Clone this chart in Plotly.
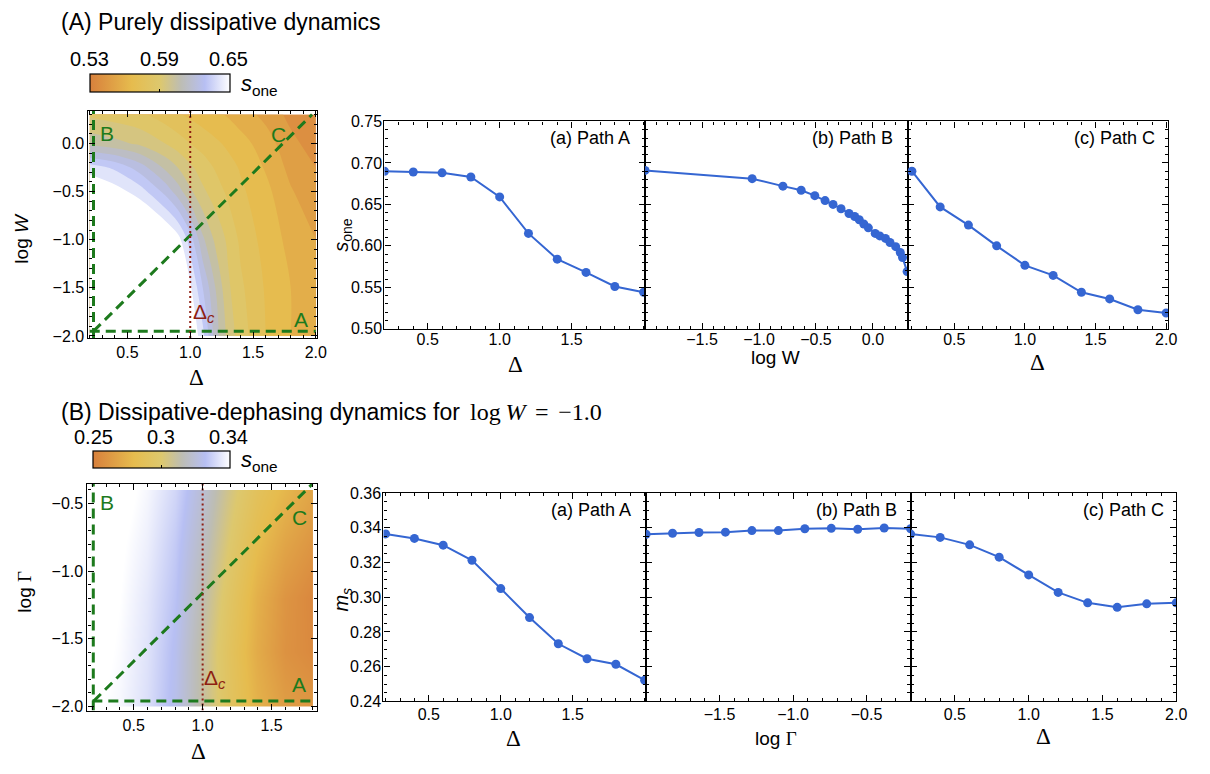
import plotly.graph_objects as go

W, H = 1210, 774


def px(x):
    return x / W


def py(y):
    return 1 - y / H


# ---------------- data ----------------
# (A) map of s_one over (Delta, log W)
mapA_delta = [0.2, 0.4, 0.6, 0.8, 0.9, 1.0, 1.1, 1.2, 1.3, 1.4, 1.6, 1.8, 2.0]
mapA_logW = [-2.0, -1.5, -1.0, -0.5, -0.25, 0.0, 0.3]
mapA_sone = [
    [0.690, 0.690, 0.689, 0.684, 0.675, 0.662, 0.643, 0.615, 0.597, 0.585, 0.570, 0.560, 0.553],
    [0.690, 0.688, 0.685, 0.678, 0.668, 0.652, 0.630, 0.610, 0.592, 0.582, 0.569, 0.560, 0.553],
    [0.685, 0.682, 0.676, 0.665, 0.655, 0.635, 0.612, 0.598, 0.588, 0.578, 0.566, 0.557, 0.550],
    [0.662, 0.655, 0.645, 0.627, 0.615, 0.602, 0.592, 0.585, 0.578, 0.572, 0.563, 0.551, 0.543],
    [0.645, 0.638, 0.625, 0.608, 0.600, 0.592, 0.585, 0.579, 0.574, 0.569, 0.559, 0.547, 0.540],
    [0.607, 0.603, 0.598, 0.590, 0.585, 0.580, 0.576, 0.572, 0.568, 0.564, 0.555, 0.543, 0.535],
    [0.588, 0.585, 0.582, 0.575, 0.571, 0.568, 0.565, 0.562, 0.559, 0.555, 0.547, 0.537, 0.530],
]
cbarA_ticks = [0.53, 0.59, 0.65]
cbarA_text = ["0.53", "0.59", "0.65"]

# (A) paths through the map
pathA_delta, pathA_logW = [0.2, 2.0], [-1.95, -1.95]
pathB_delta, pathB_logW = [0.23, 0.23], [-2.02, 0.34]
pathC_delta, pathC_logW = [0.23, 1.97], [-1.95, 0.30]
deltaC = 1.0

# (A) cuts along the paths
cutA_delta = [0.2, 0.4, 0.6, 0.8, 1.0, 1.2, 1.4, 1.6, 1.8, 2.0]
cutA_sone = [0.690, 0.689, 0.688, 0.683, 0.659, 0.615, 0.584, 0.568, 0.551, 0.544]
cutB_logW = [-2.0, -1.06, -0.79, -0.63, -0.51, -0.42, -0.35, -0.28, -0.21, -0.16, -0.12,
             -0.08, -0.04, 0.02, 0.06, 0.11, 0.15, 0.20, 0.24, 0.26, 0.30]
cutB_sone = [0.691, 0.681, 0.672, 0.667, 0.6605, 0.6546, 0.650, 0.6448, 0.639, 0.6354, 0.6315,
             0.6264, 0.6217, 0.615, 0.612, 0.609, 0.604, 0.599, 0.592, 0.586, 0.569]
cutC_delta = [0.2, 0.4, 0.6, 0.8, 1.0, 1.2, 1.4, 1.6, 1.8, 2.0]
cutC_sone = [0.690, 0.647, 0.625, 0.600, 0.5765, 0.5644, 0.544, 0.536, 0.523, 0.519]

# (B) map of s_one over (Delta, log Gamma) at log W = -1
mapB_delta = [0.2, 0.4, 0.6, 0.8, 1.0, 1.2, 1.4, 1.6, 1.8]
mapB_logG = [-2.0, -1.6, -1.2, -0.8, -0.4]
mapB_sone = [
    [0.341, 0.338, 0.332, 0.322, 0.306, 0.288, 0.274, 0.265, 0.262],
    [0.343, 0.339, 0.333, 0.323, 0.306, 0.287, 0.271, 0.260, 0.256],
    [0.344, 0.340, 0.334, 0.325, 0.309, 0.290, 0.273, 0.261, 0.255],
    [0.345, 0.341, 0.336, 0.327, 0.313, 0.295, 0.279, 0.268, 0.261],
    [0.346, 0.343, 0.338, 0.330, 0.317, 0.300, 0.286, 0.276, 0.268],
]
cbarB_ticks = [0.252, 0.296, 0.34]
cbarB_text = ["0.25", "0.3", "0.34"]

pathA2_delta, pathA2_logG = [0.2, 1.8], [-1.96, -1.96]
pathB2_delta, pathB2_logG = [0.207, 0.207], [-2.03, -0.356]
pathC2_delta, pathC2_logG = [0.21, 1.795], [-1.96, -0.356]

# (B) cuts along the paths
cutA2_delta = [0.2, 0.4, 0.6, 0.8, 1.0, 1.2, 1.4, 1.6, 1.8, 2.0]
cutA2_ms = [0.3365, 0.3339, 0.3300, 0.3213, 0.3050, 0.2883, 0.2732, 0.2646, 0.2614, 0.2522]
cutB2_logG = [-2.0, -1.82, -1.64, -1.46, -1.28, -1.10, -0.92, -0.74, -0.56, -0.38, -0.20]
cutB2_ms = [0.3363, 0.3369, 0.3373, 0.3375, 0.3384, 0.3384, 0.3395, 0.3397, 0.3392, 0.3399, 0.3395]
cutC2_delta = [0.2, 0.4, 0.6, 0.8, 1.0, 1.2, 1.4, 1.6, 1.8, 2.0]
cutC2_ms = [0.3364, 0.3345, 0.3302, 0.3231, 0.3129, 0.3028, 0.2968, 0.2942, 0.2962, 0.2968]

# tick labels
ticks_delta = [0.5, 1.0, 1.5, 2.0]
ticks_delta_txt = ["0.5", "1.0", "1.5", "2.0"]
ticks_logW = [-2.0, -1.5, -1.0, -0.5, 0.0]
ticks_logW_txt = ["\u22122.0", "\u22121.5", "\u22121.0", "\u22120.5", "0.0"]
ticks_logG = [-2.0, -1.5, -1.0, -0.5]
ticks_logG_txt = ["\u22122.0", "\u22121.5", "\u22121.0", "\u22120.5"]
ticks_sone = [0.50, 0.55, 0.60, 0.65, 0.70, 0.75]
ticks_sone_txt = ["0.50", "0.55", "0.60", "0.65", "0.70", "0.75"]
ticks_ms = [0.24, 0.26, 0.28, 0.30, 0.32, 0.34, 0.36]
ticks_ms_txt = ["0.24", "0.26", "0.28", "0.30", "0.32", "0.34", "0.36"]

# ---------------- styling ----------------
SANS = "Liberation Sans, Arial, Helvetica, sans-serif"
SERIF = "Liberation Serif, Times New Roman, serif"
BLUE = "#3566D2"
GREEN = "#1D7A1D"
DARKRED = "#8E1F12"
cscale = [[0.0, "#D8803C"], [0.30, "#E6BC4E"], [0.50, "#DDC86E"],
          [0.65, "#BDBDB4"], [0.82, "#B7BFF3"], [1.0, "#FFFFFF"]]
tickfont = dict(family=SANS, size=16, color="black")


def axis(domain, rng, tickvals, ticktext, minor, labels=True, anchor=None, standoff=0):
    return dict(
        domain=domain, range=rng, anchor=anchor,
        tickmode="array", tickvals=tickvals, ticktext=ticktext,
        showticklabels=labels, tickfont=tickfont, ticklabelstandoff=standoff,
        ticks="inside", ticklen=6, tickwidth=1, tickcolor="black",
        minor=dict(ticks="inside", ticklen=3, tickwidth=1, tickcolor="black",
                   dtick=minor, tick0=0, showgrid=False),
        showline=True, linecolor="black", linewidth=1.3, mirror="allticks",
        showgrid=False, zeroline=False,
    )


def xdom(a, b):
    return [px(a), px(b)]


def ydom(top, bottom):
    return [py(bottom), py(top)]


fig = go.Figure()

# ---- maps ----
fig.add_trace(go.Contour(
    x=mapA_delta, y=mapA_logW, z=mapA_sone, coloraxis="coloraxis",
    contours=dict(start=0.53, end=0.65, size=0.01, coloring="fill", showlines=False),
    line=dict(width=0), xaxis="x", yaxis="y", hoverinfo="skip"))
# carrier of the continuous colour bar for map (A)
fig.add_trace(go.Scatter(
    x=[mapA_delta[0]], y=[mapA_logW[0]], mode="markers",
    marker=dict(color=[mapA_sone[0][0]], coloraxis="coloraxis3", size=1, opacity=0),
    xaxis="x", yaxis="y", showlegend=False, hoverinfo="skip"))
fig.add_trace(go.Contour(
    x=mapB_delta, y=mapB_logG, z=mapB_sone, coloraxis="coloraxis2",
    contours=dict(start=0.252, end=0.34, size=0.004, coloring="heatmap", showlines=False),
    line=dict(width=0), xaxis="x5", yaxis="y5", hoverinfo="skip"))

dash_green = dict(color=GREEN, width=3, dash="10px,6px")
dot_red = dict(color=DARKRED, width=2, dash="2px,3px")
for xs, ys in [(pathA_delta, pathA_logW), (pathB_delta, pathB_logW), (pathC_delta, pathC_logW)]:
    fig.add_trace(go.Scatter(x=xs, y=ys, mode="lines", line=dash_green,
                             xaxis="x", yaxis="y", showlegend=False, hoverinfo="skip"))
fig.add_trace(go.Scatter(x=[deltaC, deltaC], y=[-2.02, 0.34], mode="lines", line=dot_red,
                         xaxis="x", yaxis="y", showlegend=False, hoverinfo="skip"))
for xs, ys in [(pathA2_delta, pathA2_logG), (pathB2_delta, pathB2_logG), (pathC2_delta, pathC2_logG)]:
    fig.add_trace(go.Scatter(x=xs, y=ys, mode="lines", line=dash_green,
                             xaxis="x5", yaxis="y5", showlegend=False, hoverinfo="skip"))
fig.add_trace(go.Scatter(x=[deltaC, deltaC], y=[-2.03, -0.356], mode="lines", line=dot_red,
                         xaxis="x5", yaxis="y5", showlegend=False, hoverinfo="skip"))

# ---- path cuts ----
line_style = dict(color=BLUE, width=2)
marker_style = dict(color=BLUE, size=9)
cuts = [
    (cutA_delta, cutA_sone, "x2", "y2"),
    (cutB_logW, cutB_sone, "x3", "y3"),
    (cutC_delta, cutC_sone, "x4", "y4"),
    (cutA2_delta, cutA2_ms, "x6", "y6"),
    (cutB2_logG, cutB2_ms, "x7", "y7"),
    (cutC2_delta, cutC2_ms, "x8", "y8"),
]
for xs, ys, xa, ya in cuts:
    fig.add_trace(go.Scatter(x=xs, y=ys, mode="lines+markers", line=line_style,
                             marker=marker_style, xaxis=xa, yaxis=ya,
                             showlegend=False, cliponaxis=True))

# ---- axes ----
topY = ydom(116, 328)
botY = ydom(496, 709)
layout_axes = dict(
    xaxis=axis(xdom(89.3, 320), [0.19, 2.01], ticks_delta, ticks_delta_txt, 0.1, anchor="y"),
    yaxis=axis(ydom(105, 337.3), [-2.02, 0.34], ticks_logW, ticks_logW_txt, 0.1, anchor="x"),
    xaxis2=axis(xdom(388, 651), [0.2, 2.01], ticks_delta[:3], ticks_delta_txt[:3], 0.1,
                anchor="y2", standoff=-4),
    yaxis2=axis(topY, [0.5, 0.75], ticks_sone, ticks_sone_txt, 0.01, anchor="x2", standoff=-2),
    xaxis3=axis(xdom(651, 916), [-2.0, 0.305], ticks_logW[1:], ticks_logW_txt[1:], 0.1,
                anchor="y3", standoff=-4),
    yaxis3=axis(topY, [0.5, 0.75], ticks_sone, ticks_sone_txt, 0.01, labels=False, anchor="x3"),
    xaxis4=axis(xdom(916, 1179), [0.17, 2.015], ticks_delta, ticks_delta_txt, 0.1,
                anchor="y4", standoff=-4),
    yaxis4=axis(topY, [0.5, 0.75], ticks_sone, ticks_sone_txt, 0.01, labels=False, anchor="x4"),
    xaxis5=axis(xdom(88.3, 320), [0.165, 1.83], ticks_delta[:3], ticks_delta_txt[:3], 0.1, anchor="y5"),
    yaxis5=axis(ydom(486.7, 718.3), [-2.03, -0.356], ticks_logG, ticks_logG_txt, 0.1, anchor="x5"),
    xaxis6=axis(xdom(387, 652), [0.185, 2.01], ticks_delta[:3], ticks_delta_txt[:3], 0.1,
                anchor="y6", standoff=-2),
    yaxis6=axis(botY, [0.24, 0.36], ticks_ms, ticks_ms_txt, 0.005, anchor="x6", standoff=-2),
    xaxis7=axis(xdom(652, 919), [-2.0, -0.2], ticks_logG[1:], ticks_logG_txt[1:], 0.1,
                anchor="y7", standoff=-2),
    yaxis7=axis(botY, [0.24, 0.36], ticks_ms, ticks_ms_txt, 0.005, labels=False, anchor="x7"),
    xaxis8=axis(xdom(919, 1187), [0.2, 2.0], ticks_delta, ticks_delta_txt, 0.1,
                anchor="y8", standoff=-2),
    yaxis8=axis(botY, [0.24, 0.36], ticks_ms, ticks_ms_txt, 0.005, labels=False, anchor="x8"),
)


def cbar(x0, y0, length, thick, midtick):
    return dict(
        orientation="h", x=px(x0), xanchor="left", y=py(y0), yanchor="top",
        len=length, lenmode="pixels", thickness=thick, thicknessmode="pixels",
        xpad=0, ypad=0, outlinewidth=1.2, outlinecolor="black",
        tickmode="array", tickvals=[midtick], ticks="inside", ticklen=3,
        tickcolor="black", showticklabels=False,
    )


# ---- text ----
ann = []


def text(x, y, s, size, xanchor="center", yanchor="middle", angle=0, color="black",
         family=SANS, xref="paper", yref="paper"):
    ann.append(dict(
        x=px(x) if xref == "paper" else x, y=py(y) if yref == "paper" else y,
        xref=xref, yref=yref, text=s, showarrow=False, xanchor=xanchor, yanchor=yanchor,
        textangle=angle, font=dict(family=family, size=size, color=color)))


text(60, 14, "(A) Purely dissipative dynamics", 23, xanchor="left")
text(60, 413, "(B) Dissipative-dephasing dynamics for", 23, xanchor="left")
text(472, 413, "log\u2009<i>W</i>\u2009\u2009=\u2009\u2009\u22121.0", 24, xanchor="left", family=SERIF)

# colour-bar tick labels above the bars, and their titles
for v, s in zip(cbarA_ticks, cbarA_text):
    text(90.7 + (v - cbarA_ticks[0]) / (cbarA_ticks[-1] - cbarA_ticks[0]) * 140, 52, s, 20)
for v, s in zip(cbarB_ticks, cbarB_text):
    text(94.3 + (v - cbarB_ticks[0]) / (cbarB_ticks[-1] - cbarB_ticks[0]) * 136.7, 439, s, 20)
text(241, 79, "<i>s</i><sub>one</sub>", 22, xanchor="left")
text(241, 463, "<i>s</i><sub>one</sub>", 22, xanchor="left")

# axis titles
text(22, 235, "log <i>W</i>", 19, angle=-90)
text(198, 378, "\u0394", 23, family=SERIF)
text(25, 597, "log <span style='font-family:Liberation Serif'>\u0393</span>", 19, angle=-90)
text(200, 760, "\u0394", 23, family=SERIF)
text(520, 365, "\u0394", 23, family=SERIF)
text(783, 357, "log W", 19)
text(1047, 362, "\u0394", 23, family=SERIF)
text(346, 232, "<i>s</i><sub>one</sub>", 20, angle=-90)
text(518, 747, "\u0394", 23, family=SERIF)
text(783, 747, "log <span style='font-family:Liberation Serif'>\u0393</span>", 19)
text(1053, 745, "\u0394", 23, family=SERIF)
text(346, 605, "<i>m<sub>s</sub></i>", 20, angle=-90)

# panel labels
for x, y, s in [(638, 133, "(a) Path A"), (903, 133, "(b) Path B"), (1168, 133, "(c) Path C"),
                (639, 513, "(a) Path A"), (907, 513, "(b) Path B"), (1177, 513, "(c) Path C")]:
    text(x, y, s, 18, xanchor="right")

# labels inside the maps
for x, y, s in [(0.34, 0.10, "B"), (1.70, 0.09, "C"), (1.88, -1.83, "A")]:
    text(x, y, s, 21, color=GREEN, xref="x", yref="y")
text(1.11, -1.76, "\u0394<sub><i>c</i></sub>", 21, color=DARKRED, xref="x", yref="y")
for x, y, s in [(0.31, -0.49, "B"), (1.70, -0.60, "C"), (1.70, -1.84, "A")]:
    text(x, y, s, 21, color=GREEN, xref="x5", yref="y5")
text(1.09, -1.80, "\u0394<sub><i>c</i></sub>", 21, color=DARKRED, xref="x5", yref="y5")

fig.update_layout(
    width=W, height=H, margin=dict(l=0, r=0, t=0, b=0),
    paper_bgcolor="white", plot_bgcolor="white", showlegend=False,
    font=dict(family=SANS, color="black"),
    coloraxis=dict(colorscale=cscale, cmin=0.53, cmax=0.65, showscale=False),
    coloraxis3=dict(colorscale=cscale, cmin=0.53, cmax=0.65,
                    colorbar=cbar(90.7, 67.7, 140, 18, cbarA_ticks[1])),
    coloraxis2=dict(colorscale=cscale, cmin=0.252, cmax=0.34,
                    colorbar=cbar(94.3, 453.3, 137, 17, cbarB_ticks[1])),
    annotations=ann,
    **layout_axes,
)

fig.write_html("out.html")
